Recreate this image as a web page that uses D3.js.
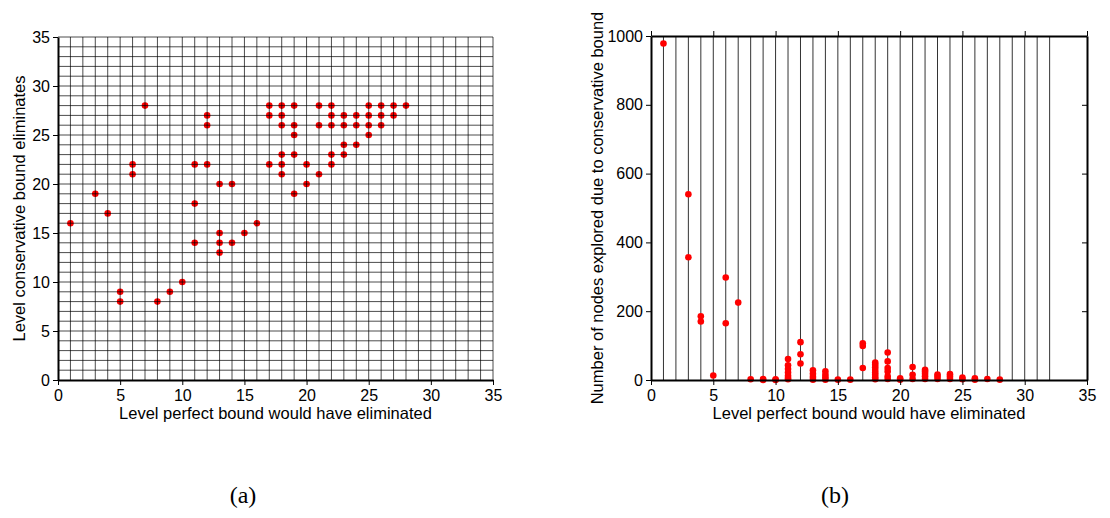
<!DOCTYPE html>
<html>
<head>
<meta charset="utf-8">
<script src="https://cdn.jsdelivr.net/npm/d3@7/dist/d3.min.js"></script>
<style>
	body { margin: 0; background: #fff; }
	svg { display: block; }
	.axis text { font-family: "Liberation Sans", Arial, sans-serif; font-size: 16px; fill: #000; }
	.axis path, .axis line { stroke: #000; }
	.title { font-family: "Liberation Sans", Arial, sans-serif; font-size: 16.5px; fill: #000; }
	.caption { font-family: "Liberation Serif", "Times New Roman", serif; font-size: 24px; fill: #000; }
</style>
</head>
<body>
<svg id="chart" width="1110" height="518"></svg>
<script>
// (a) level the perfect bound would eliminate vs level the conservative bound eliminates
var levelPerfectA = [1, 3, 4, 5, 5, 6, 6, 7, 8, 9, 10, 11, 11, 11, 12, 12, 12, 13, 13, 13, 13, 14, 14, 15, 16,
	17, 18, 19, 21, 22, 25, 26, 27, 28,
	17, 18, 22, 23, 24, 25, 26, 27,
	18, 19, 21, 22, 23, 24, 25, 26,
	19, 25,
	23, 24,
	18, 19, 22, 23,
	17, 18, 20, 22,
	18, 21,
	20,
	19];
var levelConservA = [16, 19, 17, 9, 8, 22, 21, 28, 8, 9, 10, 22, 18, 14, 27, 26, 22, 20, 15, 14, 13, 20, 14, 15, 16,
	28, 28, 28, 28, 28, 28, 28, 28, 28,
	27, 27, 27, 27, 27, 27, 27, 27,
	26, 26, 26, 26, 26, 26, 26, 26,
	25, 25,
	24, 24,
	23, 23, 23, 23,
	22, 22, 22, 22,
	21, 21,
	20,
	19];

// (b) level the perfect bound would eliminate vs extra nodes explored
var levelPerfectB = [1, 3, 3, 4, 4, 5, 6, 6, 7, 8, 9, 9, 10, 10,
	11, 11, 11, 11, 11, 11, 11,
	12, 12, 12,
	13, 13, 13, 13,
	14, 14, 14, 14,
	15, 16,
	17, 17, 17,
	18, 18, 18, 18, 18, 18, 18, 18,
	19, 19, 19, 19, 19, 19,
	20, 20,
	21, 21, 21,
	22, 22, 22, 22, 22,
	23, 23, 23,
	24, 24, 24,
	25, 25, 26, 26, 27, 28];
var nodesExplored = [978, 540, 357, 185, 170, 13, 298, 165, 225, 2, 3, 0, 2, 0,
	61, 43, 32, 22, 12, 6, 2,
	110, 75, 48,
	28, 18, 9, 1,
	25, 15, 8, 1,
	1, 1,
	107, 99, 35,
	51, 44, 37, 29, 22, 15, 8, 2,
	80, 54, 35, 25, 11, 3,
	5, 1,
	38, 15, 3,
	30, 25, 18, 11, 3,
	16, 10, 3,
	17, 10, 3,
	7, 2, 5, 1, 3, 1];

var xTicks = [0, 5, 10, 15, 20, 25, 30, 35];
var yTicksA = [0, 5, 10, 15, 20, 25, 30, 35];
var yTicksB = [0, 200, 400, 600, 800, 1000];

var svg = d3.select("#chart");
svg.append("rect").attr("width", 1110).attr("height", 518).attr("fill", "#fff");

var dotColor = "#f00";

// ---------- (a) ----------
var xa = d3.scaleLinear().domain([0, 35]).range([58, 493]);
var ya = d3.scaleLinear().domain([0, 35]).range([380, 37]);
var ga = svg.append("g");

ga.selectAll(".dot")
	.data(levelPerfectA.map(function (d, i) { return [d, levelConservA[i]]; }))
	.enter().append("circle")
	.attr("class", "dot")
	.attr("cx", function (d) { return xa(d[0]); })
	.attr("cy", function (d) { return ya(d[1]); })
	.attr("r", 3.3)
	.attr("fill", dotColor);

// grid drawn over the dots like the original
var gridA = d3.range(1, 36);
ga.selectAll(".vgrid").data(gridA).enter().append("line")
	.attr("x1", function (d) { return xa(d); }).attr("x2", function (d) { return xa(d); })
	.attr("y1", ya(0)).attr("y2", ya(35))
	.attr("stroke", "#000").attr("stroke-opacity", 0.7).attr("stroke-width", 1);
ga.selectAll(".hgrid").data(gridA).enter().append("line")
	.attr("y1", function (d) { return ya(d); }).attr("y2", function (d) { return ya(d); })
	.attr("x1", xa(0)).attr("x2", xa(35))
	.attr("stroke", "#000").attr("stroke-opacity", 0.7).attr("stroke-width", 1);

ga.append("g")
	.attr("class", "axis")
	.attr("transform", "translate(0," + ya(0) + ")")
	.call(d3.axisBottom(xa).tickValues(xTicks).tickSize(5).tickPadding(5).tickSizeOuter(0))
	.call(function (g) { g.select(".domain").attr("stroke-width", 2); });

ga.append("g")
	.attr("class", "axis")
	.attr("transform", "translate(" + xa(0) + ",0)")
	.call(d3.axisLeft(ya).tickValues(yTicksA).tickSize(5).tickPadding(3).tickSizeOuter(0))
	.call(function (g) { g.select(".domain").attr("stroke-width", 2); });

ga.append("text")
	.attr("class", "title")
	.attr("x", (xa(0) + xa(35)) / 2)
	.attr("y", 419)
	.attr("text-anchor", "middle")
	.text("Level perfect bound would have eliminated");

ga.append("text")
	.attr("class", "title")
	.attr("transform", "translate(24.5," + (ya(0) + ya(35)) / 2 + ") rotate(-90)")
	.attr("text-anchor", "middle")
	.text("Level conservative bound eliminates");

// ---------- (b) ----------
var xb = d3.scaleLinear().domain([0, 35]).range([651, 1087]);
var yb = d3.scaleLinear().domain([0, 1000]).range([380, 36]);
var gb = svg.append("g");

gb.selectAll(".vgrid").data(d3.range(1, 33)).enter().append("line")
	.attr("x1", function (d) { return xb(d); }).attr("x2", function (d) { return xb(d); })
	.attr("y1", yb(0)).attr("y2", yb(1000))
	.attr("stroke", "#000").attr("stroke-opacity", 0.8).attr("stroke-width", 1);

gb.selectAll(".dot")
	.data(levelPerfectB.map(function (d, i) { return [d, nodesExplored[i]]; }))
	.enter().append("circle")
	.attr("class", "dot")
	.attr("cx", function (d) { return xb(d[0]); })
	.attr("cy", function (d) { return yb(d[1]); })
	.attr("r", 3.3)
	.attr("fill", dotColor);

gb.append("g")
	.attr("class", "axis")
	.attr("transform", "translate(0," + yb(0) + ")")
	.call(d3.axisBottom(xb).tickValues(xTicks).tickSize(5).tickPadding(5).tickSizeOuter(0))
	.call(function (g) { g.select(".domain").attr("stroke-width", 2); });

gb.append("g")
	.attr("class", "axis")
	.attr("transform", "translate(0," + yb(1000) + ")")
	.call(d3.axisTop(xb).tickValues(xTicks).tickSize(5).tickFormat("").tickSizeOuter(0))
	.call(function (g) { g.select(".domain").attr("stroke-width", 2); });

gb.append("g")
	.attr("class", "axis")
	.attr("transform", "translate(" + xb(0) + ",0)")
	.call(d3.axisLeft(yb).tickValues(yTicksB).tickSize(5).tickPadding(3).tickFormat(d3.format("d")).tickSizeOuter(0))
	.call(function (g) { g.select(".domain").attr("stroke-width", 2); });

// right side: ticks point inward
gb.append("g")
	.attr("class", "axis")
	.attr("transform", "translate(" + xb(35) + ",0)")
	.call(d3.axisLeft(yb).tickValues(yTicksB).tickSize(5).tickFormat("").tickSizeOuter(0))
	.call(function (g) { g.select(".domain").attr("stroke-width", 2); });

gb.append("text")
	.attr("class", "title")
	.attr("x", (xb(0) + xb(35)) / 2)
	.attr("y", 419)
	.attr("text-anchor", "middle")
	.text("Level perfect bound would have eliminated");

gb.append("text")
	.attr("class", "title")
	.attr("transform", "translate(603," + (yb(0) + yb(1000)) / 2 + ") rotate(-90)")
	.attr("text-anchor", "middle")
	.text("Number of nodes explored due to conservative bound");

// captions
svg.append("text").attr("class", "caption").attr("x", 243).attr("y", 503).attr("text-anchor", "middle").text("(a)");
svg.append("text").attr("class", "caption").attr("x", 835).attr("y", 503).attr("text-anchor", "middle").text("(b)");
</script>
</body>
</html>
